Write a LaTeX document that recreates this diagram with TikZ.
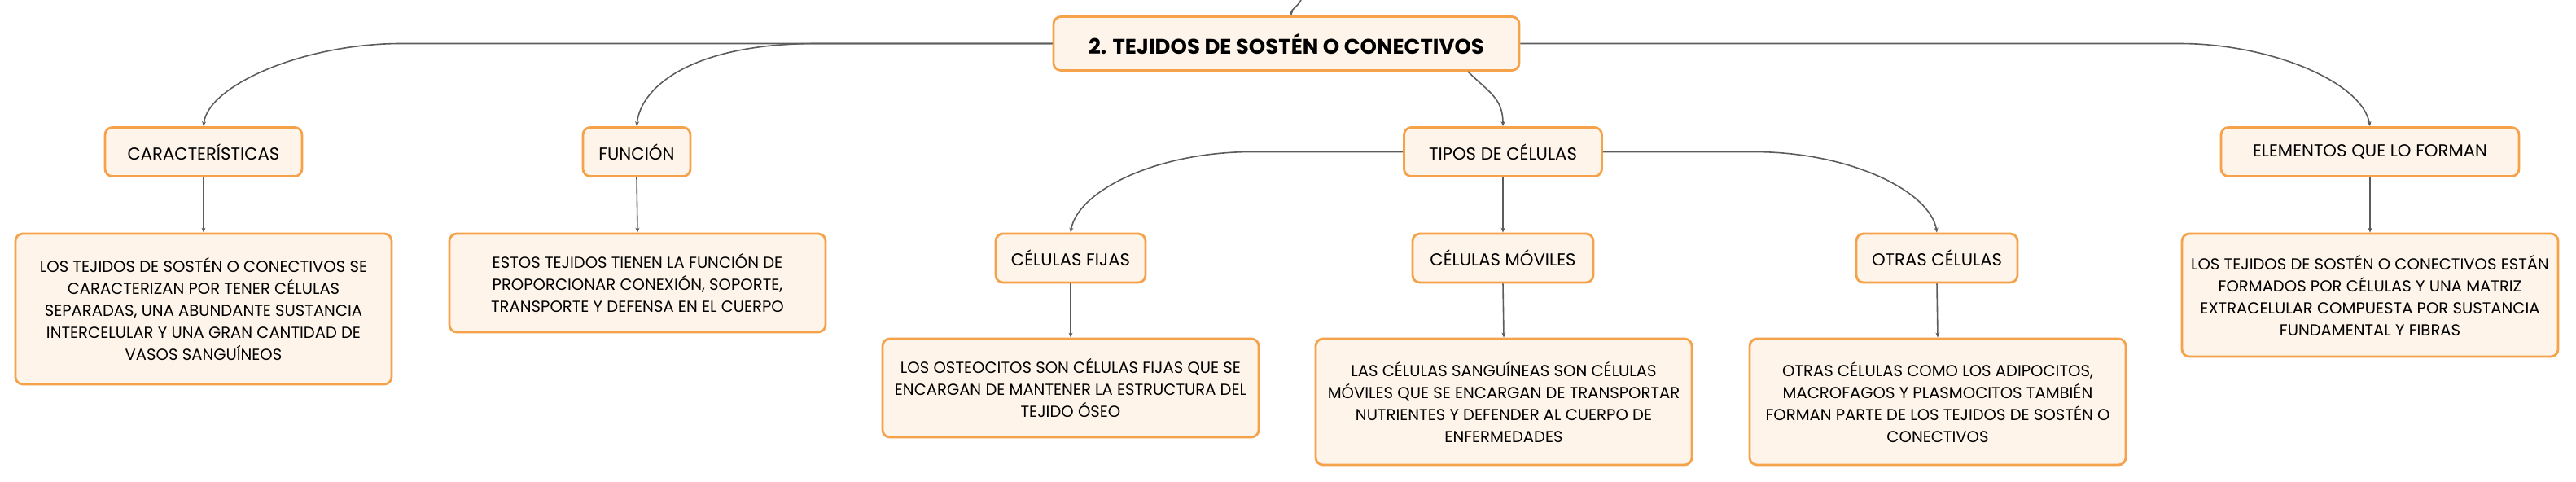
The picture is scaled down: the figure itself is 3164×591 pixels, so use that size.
\documentclass[tikz,border=0pt]{standalone}
\usepackage{fontspec}
\setmainfont{Poppins}
\usetikzlibrary{arrows.meta}
\definecolor{boxline}{HTML}{F5A24B}
\definecolor{boxfill}{HTML}{FEF4EA}
\definecolor{linkgray}{HTML}{5C5C5C}
\begin{document}
\begin{tikzpicture}[x=0.5pt, y=-0.5pt,
    box/.style={draw=boxline, fill=boxfill, line width=1.4pt, rounded corners=4.5pt,
      inner sep=0pt, align=center, font=\fontsize{9.8}{13.5}\selectfont},
    titlebox/.style={box, minimum width=286pt, minimum height=33pt,
      font=\fontsize{13}{15}\selectfont\bfseries},
    topicbox/.style={box, minimum height=30pt, font=\fontsize{10.6}{13}\selectfont},
    notebox/.style={box, minimum width=231pt},
    link/.style={draw=linkgray, line width=0.8pt, -{Stealth[length=3pt,width=2.5pt]}}]
  \useasboundingbox (0,0) rectangle (3164,591);
  % Main topic
  \node[titlebox] (main) at (1580,53.5) {2. TEJIDOS DE SOSTÉN O CONECTIVOS};
  \coordinate (parent) at (1598,0);
  % First level
  \node[topicbox, minimum width=121pt] (cara) at (250,186.5) {CARACTERÍSTICAS};
  \node[topicbox, minimum width=66pt] (func) at (782,186.5) {FUNCIÓN};
  \node[topicbox, minimum width=121.5pt] (tipos) at (1846,186.5) {TIPOS DE CÉLULAS};
  \node[topicbox, minimum width=183pt] (elem) at (2911,186.5) {ELEMENTOS QUE LO FORMAN};
  % Cell types
  \node[topicbox, minimum width=92pt] (fijas) at (1315,317) {CÉLULAS FIJAS};
  \node[topicbox, minimum width=111pt] (moviles) at (1846,317) {CÉLULAS MÓVILES};
  \node[topicbox, minimum width=99pt] (otras) at (2379,317) {OTRAS CÉLULAS};
  % Notes
  \node[notebox, minimum height=92.5pt] (caratext) at (250,379.5)
    {LOS TEJIDOS DE SOSTÉN O CONECTIVOS SE\\CARACTERIZAN POR TENER CÉLULAS\\SEPARADAS, UNA ABUNDANTE SUSTANCIA\\INTERCELULAR Y UNA GRAN CANTIDAD DE\\VASOS SANGUÍNEOS};
  \node[notebox, minimum height=60.5pt] (functext) at (783,347.5)
    {ESTOS TEJIDOS TIENEN LA FUNCIÓN DE\\PROPORCIONAR CONEXIÓN, SOPORTE,\\TRANSPORTE Y DEFENSA EN EL CUERPO};
  \node[notebox, minimum height=75.5pt] (elemtext) at (2911,362.5)
    {LOS TEJIDOS DE SOSTÉN O CONECTIVOS ESTÁN\\FORMADOS POR CÉLULAS Y UNA MATRIZ\\EXTRACELULAR COMPUESTA POR SUSTANCIA\\FUNDAMENTAL Y FIBRAS};
  \node[notebox, minimum height=60.5pt] (fijastext) at (1315,476.5)
    {LOS OSTEOCITOS SON CÉLULAS FIJAS QUE SE\\ENCARGAN DE MANTENER LA ESTRUCTURA DEL\\TEJIDO ÓSEO};
  \node[notebox, minimum height=77.5pt] (movilestext) at (1847,493.5)
    {LAS CÉLULAS SANGUÍNEAS SON CÉLULAS\\MÓVILES QUE SE ENCARGAN DE TRANSPORTAR\\NUTRIENTES Y DEFENDER AL CUERPO DE\\ENFERMEDADES};
  \node[notebox, minimum height=77.5pt] (otrastext) at (2380,493.5)
    {OTRAS CÉLULAS COMO LOS ADIPOCITOS,\\MACROFAGOS Y PLASMOCITOS TAMBIÉN\\FORMAN PARTE DE LOS TEJIDOS DE SOSTÉN O\\CONECTIVOS};
  % Branches of the main topic
  \draw[link] (parent) .. controls +(-4,8) and +(0,-8) .. ([xshift=3pt]main.north);
  \draw[link] (main.west) -- ++(-800,0) .. controls +(-120,0) and +(5,-50) .. (cara.north);
  \draw[link] (main.west) -- ++(-290,0) .. controls +(-150,0) and +(5,-50) .. (func.north);
  \draw[link] ([xshift=111.5pt]main.south) .. controls +(25,25) and +(0,-35) .. (tipos.north);
  \draw[link] (main.east) -- ++(810,0) .. controls +(110,0) and +(-10,-55) .. (elem.north);
  % Branches of the cell types
  \draw[link] (tipos.west) -- ++(-185,0) .. controls +(-120,0) and +(8,-50) .. (fijas.north);
  \draw[link] (tipos.south) -- (moviles.north);
  \draw[link] (tipos.east) -- ++(185,0) .. controls +(120,0) and +(-8,-50) .. (otras.north);
  % Notes
  \draw[link] (cara.south) -- (caratext.north);
  \draw[link] (func.south) -- (functext.north);
  \draw[link] (elem.south) -- (elemtext.north);
  \draw[link] (fijas.south) -- (fijastext.north);
  \draw[link] (moviles.south) -- (movilestext.north);
  \draw[link] (otras.south) -- (otrastext.north);
\end{tikzpicture}
\end{document}
